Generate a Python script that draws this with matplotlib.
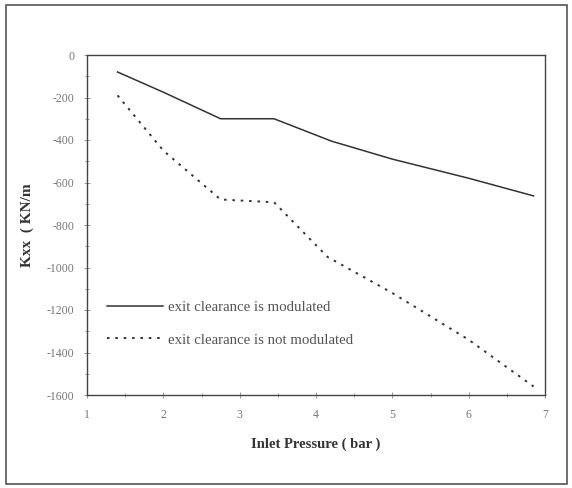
import matplotlib
matplotlib.use("Agg")
import matplotlib.pyplot as plt
from matplotlib.patches import Rectangle
from matplotlib.ticker import MultipleLocator

plt.rcParams['font.family'] = ['Liberation Serif', 'DejaVu Serif']
plt.rcParams['axes.unicode_minus'] = False

# Inlet pressure (bar) and direct stiffness Kxx (kN/m)
pressure_mod = [1.4, 2.0, 2.75, 3.45, 4.2, 5.0, 6.0, 6.85]
kxx_mod = [-80, -175, -300, -300, -405, -490, -580, -663]

pressure_notmod = [1.4, 2.0, 2.75, 3.45, 4.15, 5.0, 6.0, 6.85]
kxx_notmod = [-190, -450, -680, -693, -950, -1120, -1340, -1560]

labels = ["exit clearance is modulated", "exit clearance is not modulated"]
x_ticks = [1, 2, 3, 4, 5, 6, 7]
y_ticks = [0, -200, -400, -600, -800, -1000, -1200, -1400, -1600]

fig = plt.figure(figsize=(5.72, 4.88), dpi=100)
fig.patch.set_facecolor("white")
fig.add_artist(Rectangle((6 / 572, 1 - 484 / 488), 561 / 572, 479 / 488,
                         transform=fig.transFigure, fill=False,
                         edgecolor="#555555", linewidth=1.2))

ax = fig.add_axes([87 / 572, 1 - 395 / 488, 458 / 572, 340 / 488])
line_col = "#333333"
ax.plot(pressure_mod, kxx_mod, color=line_col, linewidth=1.1, label=labels[0])
ax.plot(pressure_notmod, kxx_notmod, color=line_col, linewidth=1.4,
        linestyle=(0, (1.3, 3.0)), label=labels[1])

ax.set_xlim(1, 7)
ax.set_ylim(-1600, 0)
ax.set_xticks(x_ticks)
ax.set_yticks(y_ticks)
ax.xaxis.set_minor_locator(MultipleLocator(0.5))
ax.yaxis.set_minor_locator(MultipleLocator(100))
ax.tick_params(which="both", direction="inout", colors="#888888",
               labelcolor="#777777", labelsize=8.5, length=4, width=0.6)
ax.tick_params(axis="x", which="major", pad=8)
ax.tick_params(axis="y", which="major", pad=7)
ax.tick_params(which="minor", length=2.5)
for s in ax.spines.values():
    s.set_color("#444444")
    s.set_linewidth(1.0)

ax.set_xlabel("Inlet Pressure ( bar )", fontsize=10.5, fontweight="bold",
              color="#333333", labelpad=12)
ax.set_ylabel("Kxx  ( KN/m", fontsize=11, fontweight="bold",
              color="#333333", labelpad=9)

leg = ax.legend(loc="lower left", bbox_to_anchor=(0.03, 0.125), frameon=False,
                fontsize=10.7, handlelength=3.8, handletextpad=0.3,
                labelspacing=1.3, borderaxespad=0.0)
for t in leg.get_texts():
    t.set_color("#555555")

fig.savefig("out.png", dpi=100)
